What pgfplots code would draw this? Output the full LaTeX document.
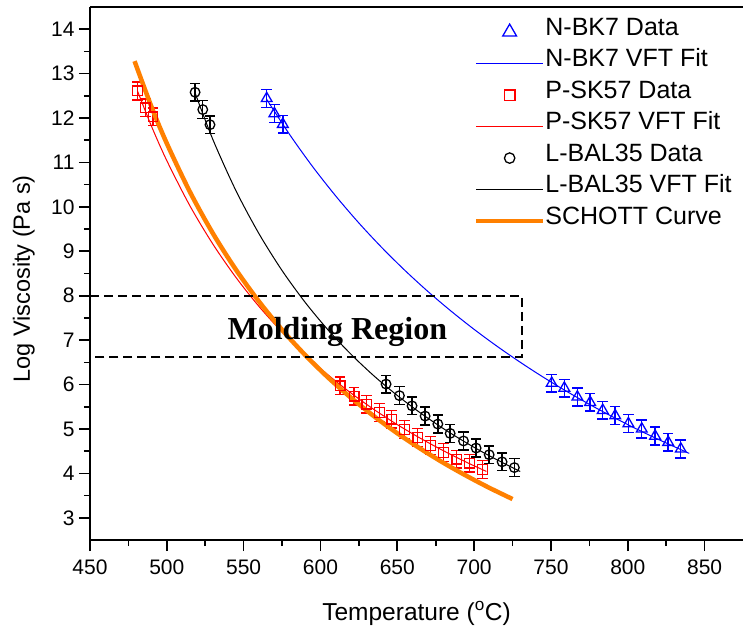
\documentclass[border=0pt]{standalone}
\usepackage{pgfplots}
\pgfplotsset{compat=1.18}
\usepackage{fontspec}
\setmainfont{Liberation Sans}
\newfontfamily\timesfont{Liberation Serif}
\definecolor{schott}{RGB}{255,128,0}
\pgfplotsset{
 linelegend/.style={legend image code/.code={\draw[##1] (0pt,0pt) -- (67pt,0pt);}},
 marklegend/.style={legend image code/.code={\draw[mark repeat=2,mark phase=2,##1,mark size=#1] plot coordinates {(0pt,0pt) (33.5pt,0pt) (67pt,0pt)};}},
 ebar/.style={error bars/.cd, y dir=both, y fixed=0.2, error mark options={rotate=90, mark size=5.3pt, line width=1.4pt}, error bar style={line width=1.4pt}},
}
\begin{document}
\begin{tikzpicture}
\begin{axis}[name=ax, scale only axis, width=653pt, height=533pt,
 xmin=450, xmax=875, ymin=2.5, ymax=14.5,
 axis x line*=bottom, axis y line*=left,
 axis line style={-, line width=2pt},
 xtick={450,500,...,850}, ytick={3,4,...,14},
 minor x tick num=1, minor y tick num=1,
 tick align=outside, major tick length=11pt, minor tick length=6pt,
 tick style={black, line width=1.6pt},
 tick label style={font=\fontsize{21}{24}\selectfont},
 xticklabel style={yshift=-5pt},
 yticklabel style={xshift=-1pt},
 /pgf/number format/assume math mode=true,
 xlabel={Temperature (\textsuperscript{o}C)},
 ylabel={Log Viscosity (Pa s)},
 xlabel style={font=\fontsize{24.5}{28}\selectfont, at={(axis description cs:0.5,0)}, anchor=base, yshift=-80pt},
 ylabel style={font=\fontsize{23.5}{28}\selectfont, at={(axis description cs:-0.0919,0.49)}, anchor=base},
 clip=false,
 legend style={draw=none, fill=none, at={(0.583,0.9866)}, anchor=north west,
   font=\fontsize{25}{28}\selectfont, row sep=0pt, column sep=0pt,
   nodes={inner sep=0pt, text height=19pt, text depth=12.5pt}},
 legend cell align=left,
]
% N-BK7
\addplot[blue, only marks, mark=triangle, mark size=6.2pt, mark options={line width=1.3pt, fill=none}, marklegend=8pt, ebar]
coordinates {(565,12.44) (570,12.10) (575.5,11.86)
(750.5,6.03) (758.7,5.92) (767.2,5.72) (775.5,5.60) (783.7,5.42) (791.8,5.30) (800.4,5.12) (809.1,5.00) (817.8,4.84) (826.3,4.70) (834.5,4.55)};
\addlegendentry{N-BK7 Data}
\addplot[blue, line width=1pt, smooth, linelegend]
coordinates {(565,12.42) (580,11.625) (595,10.901) (610,10.242) (625,9.637) (640,9.081) (655,8.568) (670,8.093) (685,7.653) (700,7.242) (715,6.860) (730,6.502) (745,6.166) (760,5.851) (775,5.555) (790,5.276) (805,5.012) (820,4.763) (840,4.450)};
\addlegendentry{N-BK7 VFT Fit}
% P-SK57
\addplot[red, only marks, mark=square, mark size=4.8pt, mark options={line width=1.3pt, fill=none}, marklegend=5.2pt, ebar]
coordinates {(481,12.61) (486,12.23) (491,12.03)
(612.8,5.97) (621.9,5.74) (630.1,5.56) (638.5,5.37) (646.4,5.22) (654.6,4.99) (663.3,4.81) (671.6,4.63) (680,4.47) (688.7,4.32) (697,4.23) (705.4,4.09)};
\addlegendentry{P-SK57 Data}
\addplot[red, line width=1pt, smooth, linelegend]
coordinates {(481,12.601) (490,11.817) (500,11.040) (515,10.026) (530,9.160) (545,8.411) (560,7.758) (575,7.182) (590,6.671) (605,6.215) (620,5.805) (635,5.434) (650,5.098) (665,4.791) (680,4.510) (695,4.251) (708,4.044)};
\addlegendentry{P-SK57 VFT Fit}
% L-BAL35
\addplot[black, only marks, mark=o, mark size=4.8pt, mark options={line width=1.3pt, fill=none}, marklegend=5.2pt, ebar]
coordinates {(518.4,12.58) (523.4,12.19) (528.1,11.85)
(642.7,6.01) (651.4,5.75) (659.6,5.52) (668.1,5.29) (676.4,5.11) (684.4,4.90) (693.1,4.73) (701.3,4.57) (709.8,4.42) (718.2,4.26) (726.2,4.13)};
\addlegendentry{L-BAL35 Data}
\addplot[black, line width=1pt, smooth, linelegend]
coordinates {(518,12.601) (530,11.514) (545,10.364) (560,9.395) (575,8.567) (590,7.852) (605,7.227) (620,6.677) (635,6.189) (650,5.754) (665,5.362) (680,5.008) (695,4.687) (710,4.394) (730,4.042)};
\addlegendentry{L-BAL35 VFT Fit}
% SCHOTT
\addplot[schott, line width=4.5pt, smooth, linelegend]
coordinates {(479,13.281) (490,12.255) (500,11.428) (515,10.340) (530,9.402) (545,8.585) (560,7.868) (575,7.232) (590,6.666) (605,6.157) (620,5.699) (635,5.282) (650,4.903) (665,4.557) (680,4.238) (695,3.945) (710,3.673) (725,3.422)};
\addlegendentry{SCHOTT Curve}
% molding region box
\addplot[black, line width=2pt, dash pattern=on 9pt off 5pt, forget plot]
coordinates {(450,8) (731,8) (731,6.63) (450,6.63)};
\node[anchor=base, font=\timesfont\bfseries\fontsize{32}{36}\selectfont] at (axis cs:611,7.02) {Molding Region};
\draw[black, line width=2pt] (rel axis cs:0,1) -- (rel axis cs:1,1);
\end{axis}
\pgfresetboundingbox
\path[use as bounding box] ([shift={(-90pt,-89pt)}]ax.south west) rectangle ([shift={(0pt,7pt)}]ax.north east);
\end{tikzpicture}
\end{document}
